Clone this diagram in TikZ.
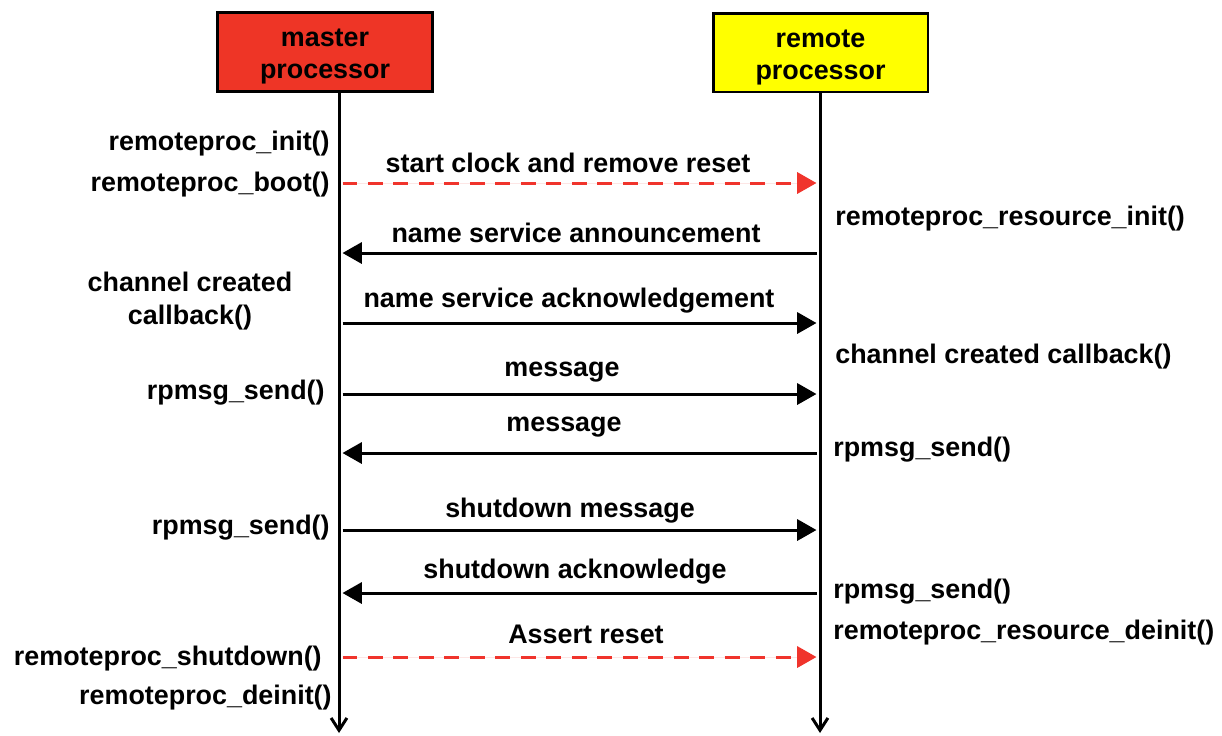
\documentclass[tikz,border=0pt]{standalone}
\usepackage{fontspec}
\setmainfont{Liberation Sans}
\usetikzlibrary{arrows.meta}
\definecolor{masterred}{RGB}{238,53,38}
\definecolor{remoteyellow}{RGB}{255,255,0}
\definecolor{resetred}{RGB}{240,52,44}
\tikzset{
  txt/.style={font=\bfseries\fontsize{15.3}{19.3}\selectfont, inner sep=0pt},
  procbox/.style={draw=black, line width=1.7pt, minimum width=4.3cm, minimum height=1.58cm},
  boxtxt/.style={txt, align=center, font=\bfseries\fontsize{15.3}{18.2}\selectfont},
  lifeline/.style={line width=1.7pt, -{Straight Barb[length=7pt,width=9pt,line width=1.7pt]}},
  msg/.style={line width=1.7pt, -{Triangle[length=11pt,width=12pt]}, shorten <=2pt, shorten >=2pt},
  resetmsg/.style={msg, draw=resetred, fill=resetred, dash pattern=on 8.5pt off 6pt},
}
\begin{document}
\begin{tikzpicture}[x=0.02cm, y=-0.02cm]
\useasboundingbox (0,0) rectangle (1222,735);

% the two processors
\node[procbox, fill=masterred] (master) at (325,52) {};
\node[boxtxt] (mastertxt) at (325,57) {master\\processor};
\node[procbox, fill=remoteyellow] (remote) at (820.5,52.5) {};
\node[boxtxt] (remotetxt) at (820.5,57.5) {remote\\processor};
\coordinate (mtop) at (339,92);
\coordinate (mend) at (339,733);
\coordinate (rtop) at (820,92);
\coordinate (rend) at (820,733);
\draw[lifeline] (mtop) -- (mend);
\draw[lifeline] (rtop) -- (rend);

% points on the lifelines
\foreach \n/\y in {1/183, 2/253, 3/323, 4/394, 5/453, 6/530, 7/593, 8/657}{
  \coordinate (m\n) at (339,\y);
  \coordinate (r\n) at (820,\y);
}

% messages
\draw[resetmsg] (m1) -- (r1);
\draw[msg] (r2) -- (m2);
\draw[msg] (m3) -- (r3);
\draw[msg] (m4) -- (r4);
\draw[msg] (r5) -- (m5);
\draw[msg] (m6) -- (r6);
\draw[msg] (r7) -- (m7);
\draw[resetmsg] (m8) -- (r8);

\node[txt] (lclock) at (568,163) {start clock and remove reset};
\node[txt] (lannounce) at (576,233) {name service announcement};
\node[txt] (lack) at (569,301) {name service acknowledgement};
\node[txt] (lmsgone) at (562,372) {message};
\node[txt] (lmsgtwo) at (564,427) {message};
\node[txt] (lshutmsg) at (570,511) {shutdown message};
\node[txt] (lshutack) at (575,572) {shutdown acknowledge};
\node[txt] (lassert) at (586,634) {Assert reset};

% master side calls
\node[txt, anchor=east] (minit) at (330,144) {remoteproc\_init()};
\node[txt, anchor=east] (mboot) at (330,185) {remoteproc\_boot()};
\node[txt, align=center] (mchannel) at (190,301) {channel created\\callback()};
\node[txt, anchor=east] (msendone) at (325,393) {rpmsg\_send()};
\node[txt, anchor=east] (msendtwo) at (330,528) {rpmsg\_send()};
\node[txt, anchor=east] (mshutdown) at (322,659) {remoteproc\_shutdown()};
\node[txt, anchor=east] (mdeinit) at (332,698) {remoteproc\_deinit()};

% remote side calls
\node[txt, anchor=west] (rresinit) at (835,219) {remoteproc\_resource\_init()};
\node[txt, anchor=west] (rchannel) at (835,357) {channel created callback()};
\node[txt, anchor=west] (rsendone) at (833,450) {rpmsg\_send()};
\node[txt, anchor=west] (rsendtwo) at (833,592) {rpmsg\_send()};
\node[txt, anchor=west] (rresdeinit) at (833,633) {remoteproc\_resource\_deinit()};
\end{tikzpicture}
\end{document}
